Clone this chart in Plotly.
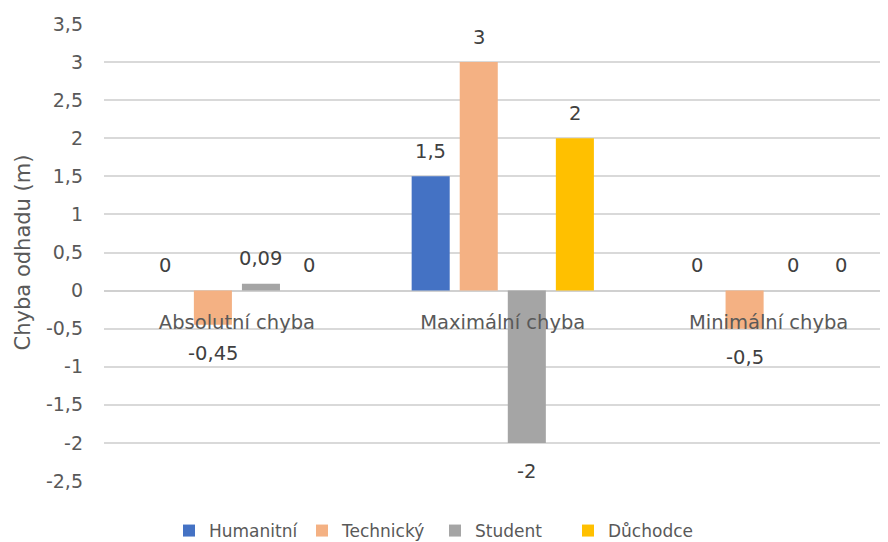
import plotly.graph_objects as go

# ---- data ----
categories = ["Absolutní chyba", "Maximální chyba", "Minimální chyba"]
series_names = ["Humanitní", "Technický", "Student", "Důchodce"]
humanitni = [0, 1.5, 0]
technicky = [-0.45, 3, -0.5]
student = [0.09, -2, 0]
duchodce = [0, 2, 0]
y_tick_values = [-2.5, -2, -1.5, -1, -0.5, 0, 0.5, 1, 1.5, 2, 2.5, 3, 3.5]
y_tick_labels = ["-2,5", "-2", "-1,5", "-1", "-0,5", "0", "0,5", "1", "1,5", "2", "2,5", "3", "3,5"]

series_values = [humanitni, technicky, student, duchodce]
colors = ["#4472C4", "#F4B183", "#A5A5A5", "#FFC000"]

FONT = "DejaVu Sans"
TXT = "#595959"
SLOT = 48 / 265.5
BAR_W = 38 / 265.5
FIG_W, FIG_H = 880, 534

def fmt(v):
    return ("%g" % v).replace(".", ",")

fig = go.Figure()
annotations = []
for j, (name, vals, col) in enumerate(zip(series_names, series_values, colors)):
    xs = [i + (j - 1.5) * SLOT for i in range(len(categories))]
    fig.add_trace(go.Bar(
        x=xs, y=vals, name=name, width=BAR_W,
        marker=dict(color=col, line=dict(width=0)),
        hoverinfo="skip",
    ))
    for x, v in zip(xs, vals):
        annotations.append(dict(
            x=x, y=v, xref="x", yref="y", text=fmt(v), showarrow=False,
            yshift=25 if v >= 0 else -29,
            font=dict(family=FONT, size=19.5, color="#404040"),
        ))

fig.update_layout(
    width=FIG_W, height=FIG_H,
    margin=dict(l=96, r=0, t=16, b=61),
    paper_bgcolor="white", plot_bgcolor="white",
    barmode="overlay",
    font=dict(family=FONT, size=18, color=TXT),
    annotations=annotations,
    showlegend=True,
    legend=dict(
        orientation="h",
        xref="container", x=161 / FIG_W, xanchor="left",
        yref="container", y=(FIG_H - 523) / FIG_H, yanchor="middle",
        font=dict(family=FONT, size=17, color=TXT),
        entrywidth=88, entrywidthmode="pixels",
        traceorder="normal", bgcolor="rgba(0,0,0,0)",
    ),
    xaxis=dict(
        range=[-0.5, 2.449],
        tickvals=list(range(len(categories))), ticktext=categories,
        showgrid=False, zeroline=False, showline=False,
        anchor="free", position=2.5 / 6.0,
        ticks="", ticklabelstandoff=18, automargin=False,
        tickfont=dict(family=FONT, size=19.5, color=TXT),
    ),
    yaxis=dict(
        range=[-2.5, 3.5],
        tickvals=y_tick_values, ticktext=y_tick_labels,
        showgrid=True, gridcolor="#D9D9D9", gridwidth=2,
        zeroline=True, zerolinecolor="#D0D0D0", zerolinewidth=2,
        showline=False, ticks="", ticklabelstandoff=20, automargin=False,
        tickfont=dict(family=FONT, size=19, color=TXT),
        title=dict(text="Chyba odhadu (m)", font=dict(family=FONT, size=21, color=TXT), standoff=9),
    ),
)

fig.write_html("out.html")
